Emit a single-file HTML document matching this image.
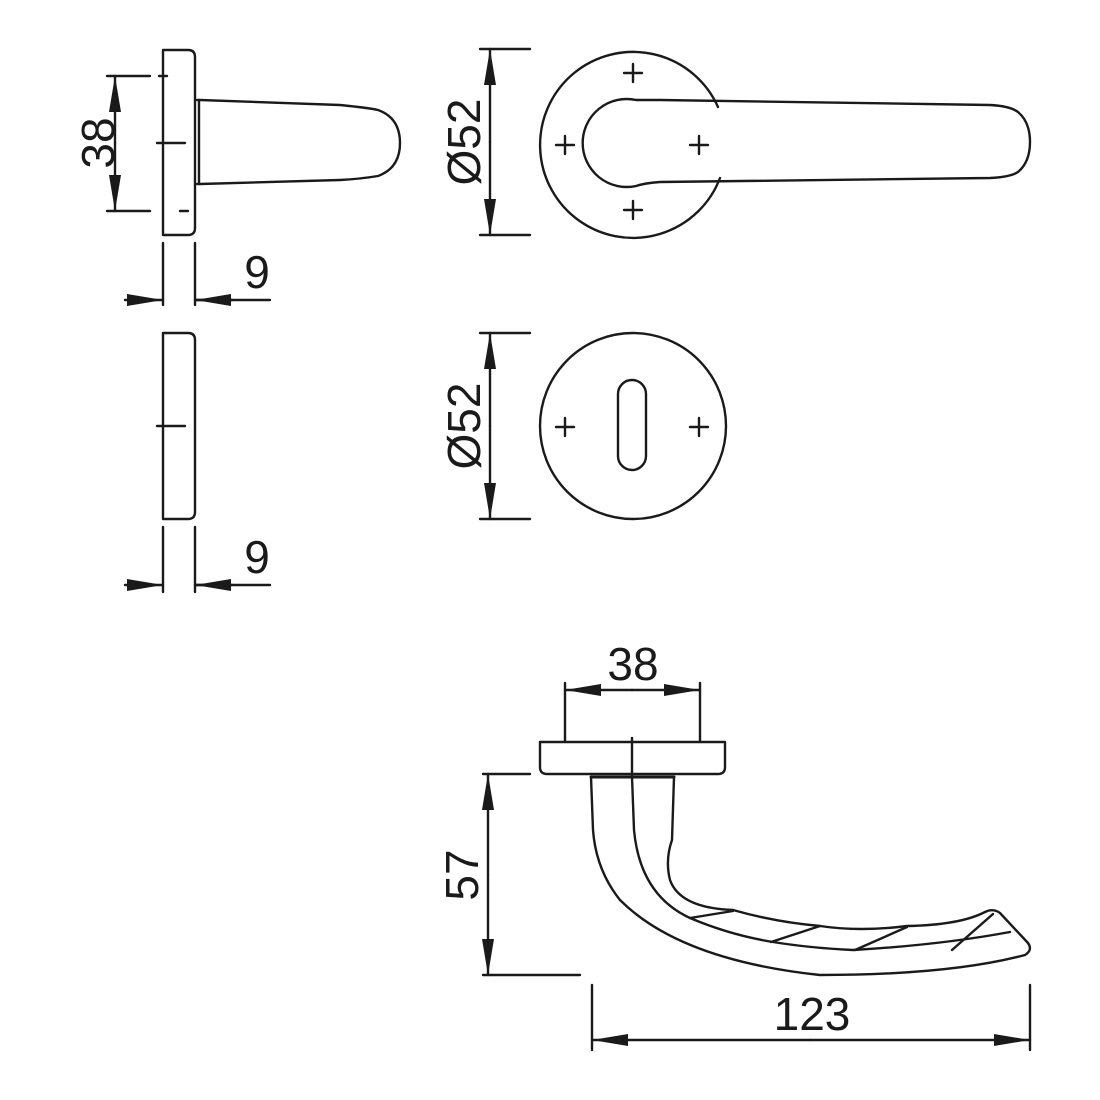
<!DOCTYPE html>
<html><head><meta charset="utf-8"><style>html,body{margin:0;background:#fff}svg{display:block}text{font-family:"Liberation Sans",sans-serif;fill:#1a1a1a}</style></head><body>
<svg width="1100" height="1100" viewBox="0 0 1100 1100" xmlns="http://www.w3.org/2000/svg">
<defs>
<marker id="a" viewBox="0 0 36 12" refX="36" refY="6" markerWidth="36" markerHeight="12" markerUnits="userSpaceOnUse" orient="auto"><path d="M0,0L36,6L0,12z" fill="#1a1a1a"/></marker>
</defs>
<g fill="none" stroke="#1a1a1a" stroke-width="2.4" stroke-linecap="round" stroke-linejoin="round">
<path d="M163,50H188Q195,50 195,57V228Q195,235 188,235H163Z"/>
<path d="M197,100L200,100L340,105Q370,108 378,110Q400,118 400,143Q400,168 378,176Q360,179 340,180L200,184L197,184"/>
<path d="M199,100V184"/>
<path d="M107,76H150M159,76H167M107,211H150M180,211H188M157,143H185"/>
<line x1="115" y1="143" x2="115" y2="76" marker-end="url(#a)"/>
<line x1="115" y1="143" x2="115" y2="211" marker-end="url(#a)"/>
<path d="M163,243V305M195,243V305M195,300H270"/>
<line x1="125" y1="300" x2="163" y2="300" marker-end="url(#a)"/>
<line x1="232" y1="300" x2="195" y2="300" marker-end="url(#a)"/>
<path d="M163,333H188Q195,333 195,340V512Q195,519 188,519H163Z"/>
<path d="M157,426H185"/>
<path d="M163,527V592M195,527V592M195,585H270"/>
<line x1="125" y1="585" x2="163" y2="585" marker-end="url(#a)"/>
<line x1="232" y1="585" x2="195" y2="585" marker-end="url(#a)"/>
<path d="M718,107A93,93 0 1 0 720,178"/>
<path d="M660,100L990,105Q1010,106 1018,112Q1030,122 1030,142Q1030,162 1018,172Q1010,177 990,178L660,182Q645,183 636,186A44,44 0 1 1 636,100Q645,100 660,100Z"/>
<path d="M633,64V82M624,73H642M633,201V219M624,210H642M565,136V154M556,145H574M699,136V154M690,145H708"/>
<path d="M480,49H530M480,235H530"/>
<line x1="490" y1="142" x2="490" y2="49" marker-end="url(#a)"/>
<line x1="490" y1="142" x2="490" y2="235" marker-end="url(#a)"/>
<circle cx="633" cy="426" r="93"/>
<rect x="618" y="380" width="28" height="90" rx="14"/>
<path d="M565,418V436M556,427H574M699,418V436M690,427H708"/>
<path d="M480,333H530M480,519H530"/>
<line x1="490" y1="426" x2="490" y2="333" marker-end="url(#a)"/>
<line x1="490" y1="426" x2="490" y2="519" marker-end="url(#a)"/>
<path d="M540,742H725V767Q725,774 718,774H547Q540,774 540,767Z"/>
<path d="M632,738V778M565,683V742M700,683V742"/>
<line x1="632" y1="690" x2="565" y2="690" marker-end="url(#a)"/>
<line x1="632" y1="690" x2="700" y2="690" marker-end="url(#a)"/>
<path d="M591,777H674" stroke-width="3"/>
<path d="M591,777L593,830Q596,870 620,900Q680,960 820,975Q950,975 1025,955Q1033,950 1028,943L1000,913Q993,908 985,912Q960,925 907,926Q860,932 820,926Q775,922 733,910Q680,908 670,880Q665,860 672,840L674,777"/>
<path d="M632,777L634,830Q640,895 690,918Q730,935 773,942Q810,948 853,950Q940,945 1010,932"/>
<path d="M690,918L733,911M771,942L820,926M855,950L907,927M952,950L993,914"/>
<path d="M483,774H530M483,975H580"/>
<line x1="488" y1="875" x2="488" y2="774" marker-end="url(#a)"/>
<line x1="488" y1="875" x2="488" y2="975" marker-end="url(#a)"/>
<path d="M592,985V1050M1030,985V1050"/>
<line x1="810" y1="1040" x2="592" y2="1040" marker-end="url(#a)"/>
<line x1="810" y1="1040" x2="1030" y2="1040" marker-end="url(#a)"/>
</g>
<g font-size="46">
<text x="102" y="143" text-anchor="middle" transform="rotate(-90 102 143)" dominant-baseline="middle">38</text>
<text x="257" y="288" text-anchor="middle">9</text>
<text x="257" y="573" text-anchor="middle">9</text>
<text x="468" y="142" text-anchor="middle" transform="rotate(-90 468 142)" dominant-baseline="middle">Ø52</text>
<text x="468" y="426" text-anchor="middle" transform="rotate(-90 468 426)" dominant-baseline="middle">Ø52</text>
<text x="633" y="680" text-anchor="middle">38</text>
<text x="466" y="875" text-anchor="middle" transform="rotate(-90 466 875)" dominant-baseline="middle">57</text>
<text x="812" y="1030" text-anchor="middle">123</text>
</g>
</svg>
</body></html>
